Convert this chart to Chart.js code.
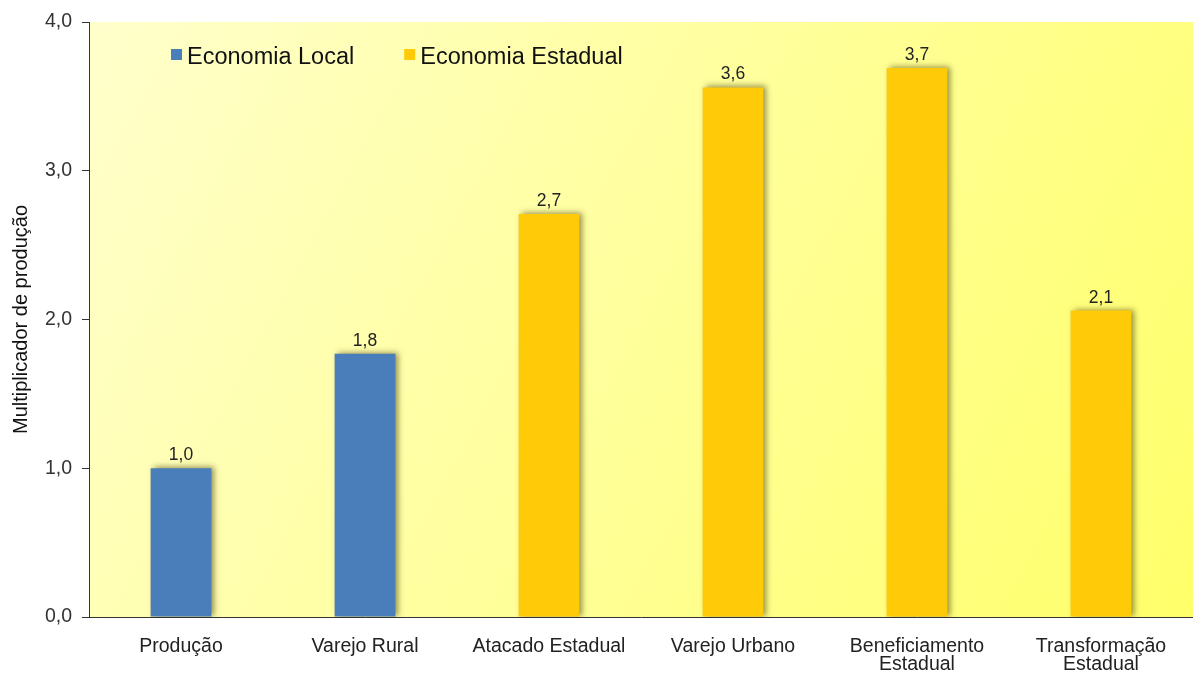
<!DOCTYPE html>
<html><head><meta charset="utf-8">
<script src="https://cdn.jsdelivr.net/npm/chart.js@4/dist/chart.umd.min.js"></script>
<style>html,body{margin:0;padding:0;background:#fff}#wrap{width:1193px;height:673px}</style>
</head><body><div id="wrap"><canvas id="c" width="1193" height="673"></canvas></div>
<script>
const categories = ['Produção', 'Varejo Rural', 'Atacado Estadual', 'Varejo Urbano', ['Beneficiamento', 'Estadual'], ['Transformação', 'Estadual']];
const seriesNames = ['Economia Local', 'Economia Estadual'];
const localValues = [1.0, 1.77, null, null, null, null];
const estadualValues = [null, null, 2.71, 3.56, 3.69, 2.06];
const yTickValues = [0, 1, 2, 3, 4];
const yTitle = 'Multiplicador de produção';

const BLUE = '#4A7EBB';
const YELLOW = '#FFCA08';
const FONT = '"Liberation Sans", Arial, sans-serif';
const fmt = v => v.toFixed(1).replace('.', ',');

const bgPlugin = {
  id: 'bg',
  beforeDraw(chart) {
    const {ctx, chartArea: a} = chart;
    const g = ctx.createLinearGradient(a.left, a.top, a.right, a.bottom);
    g.addColorStop(0, '#FFFFCC');
    g.addColorStop(1, '#FFFF6A');
    ctx.save();
    ctx.fillStyle = g;
    ctx.fillRect(a.left, a.top, a.right - a.left, a.bottom - a.top);
    ctx.restore();
  }
};

const shadowPlugin = {
  id: 'shadow',
  beforeDatasetsDraw(chart) {
    const ctx = chart.ctx;
    ctx.save();
    ctx.shadowColor = 'rgba(60,50,0,0.55)';
    ctx.shadowBlur = 6;
    ctx.shadowOffsetX = 3;
    ctx.shadowOffsetY = -1;
  },
  afterDatasetsDraw(chart) {
    chart.ctx.restore();
  }
};

const valueLabelPlugin = {
  id: 'valueLabels',
  afterDatasetsDraw(chart) {
    const ctx = chart.ctx;
    ctx.save();
    ctx.font = '17.5px ' + FONT;
    ctx.fillStyle = '#222';
    ctx.textAlign = 'center';
    ctx.textBaseline = 'alphabetic';
    chart.data.datasets.forEach((ds, di) => {
      const meta = chart.getDatasetMeta(di);
      meta.data.forEach((el, i) => {
        const v = ds.data[i];
        if (v === null || v === undefined) return;
        ctx.fillText(fmt(v), el.x, el.y - 8);
      });
    });
    ctx.restore();
  }
};

const legendPlugin = {
  id: 'insideLegend',
  afterDraw(chart) {
    const {ctx, chartArea: a} = chart;
    ctx.save();
    ctx.font = '23.5px ' + FONT;
    ctx.textBaseline = 'alphabetic';
    let x = a.left + 82;
    const baseline = a.top + 42;
    chart.data.datasets.forEach((ds) => {
      ctx.fillStyle = ds.backgroundColor;
      ctx.fillRect(x, baseline - 15, 11, 11);
      x += 16;
      ctx.fillStyle = '#111';
      ctx.fillText(ds.label, x, baseline);
      x += ctx.measureText(ds.label).width + 50;
    });
    ctx.restore();
  }
};

new Chart(document.getElementById('c'), {
  type: 'bar',
  data: {
    labels: categories,
    datasets: [
      {label: seriesNames[0], data: localValues, backgroundColor: BLUE},
      {label: seriesNames[1], data: estadualValues, backgroundColor: YELLOW}
    ]
  },
  options: {
    responsive: false,
    animation: false,
    grouped: false,
    categoryPercentage: 1,
    barPercentage: 0.33,
    layout: {padding: {top: 22, right: 0, left: 0, bottom: 0}},
    plugins: {legend: {display: false}, tooltip: {enabled: false}},
    scales: {
      x: {
        grid: {display: false},
        border: {display: true, color: '#333', width: 1},
        ticks: {color: '#222', font: {family: FONT, size: 19.5, lineHeight: 0.95}, padding: 12, maxRotation: 0, autoSkip: false},
        afterFit: s => { s.height = 56; }
      },
      y: {
        min: 0, max: 4,
        afterBuildTicks: s => { s.ticks = yTickValues.map(v => ({value: v})); },
        grid: {drawOnChartArea: false, drawTicks: true, tickLength: 7, color: '#333'},
        border: {display: true, color: '#333', width: 1},
        ticks: {color: '#333', font: {family: FONT, size: 19.5}, padding: 10, callback: v => fmt(v)},
        title: {display: true, text: yTitle, color: '#111', font: {family: FONT, size: 20}, padding: {top: 9, bottom: 0}},
        afterFit: s => { s.width = 89; }
      }
    }
  },
  plugins: [bgPlugin, shadowPlugin, valueLabelPlugin, legendPlugin]
});
</script></body></html>
